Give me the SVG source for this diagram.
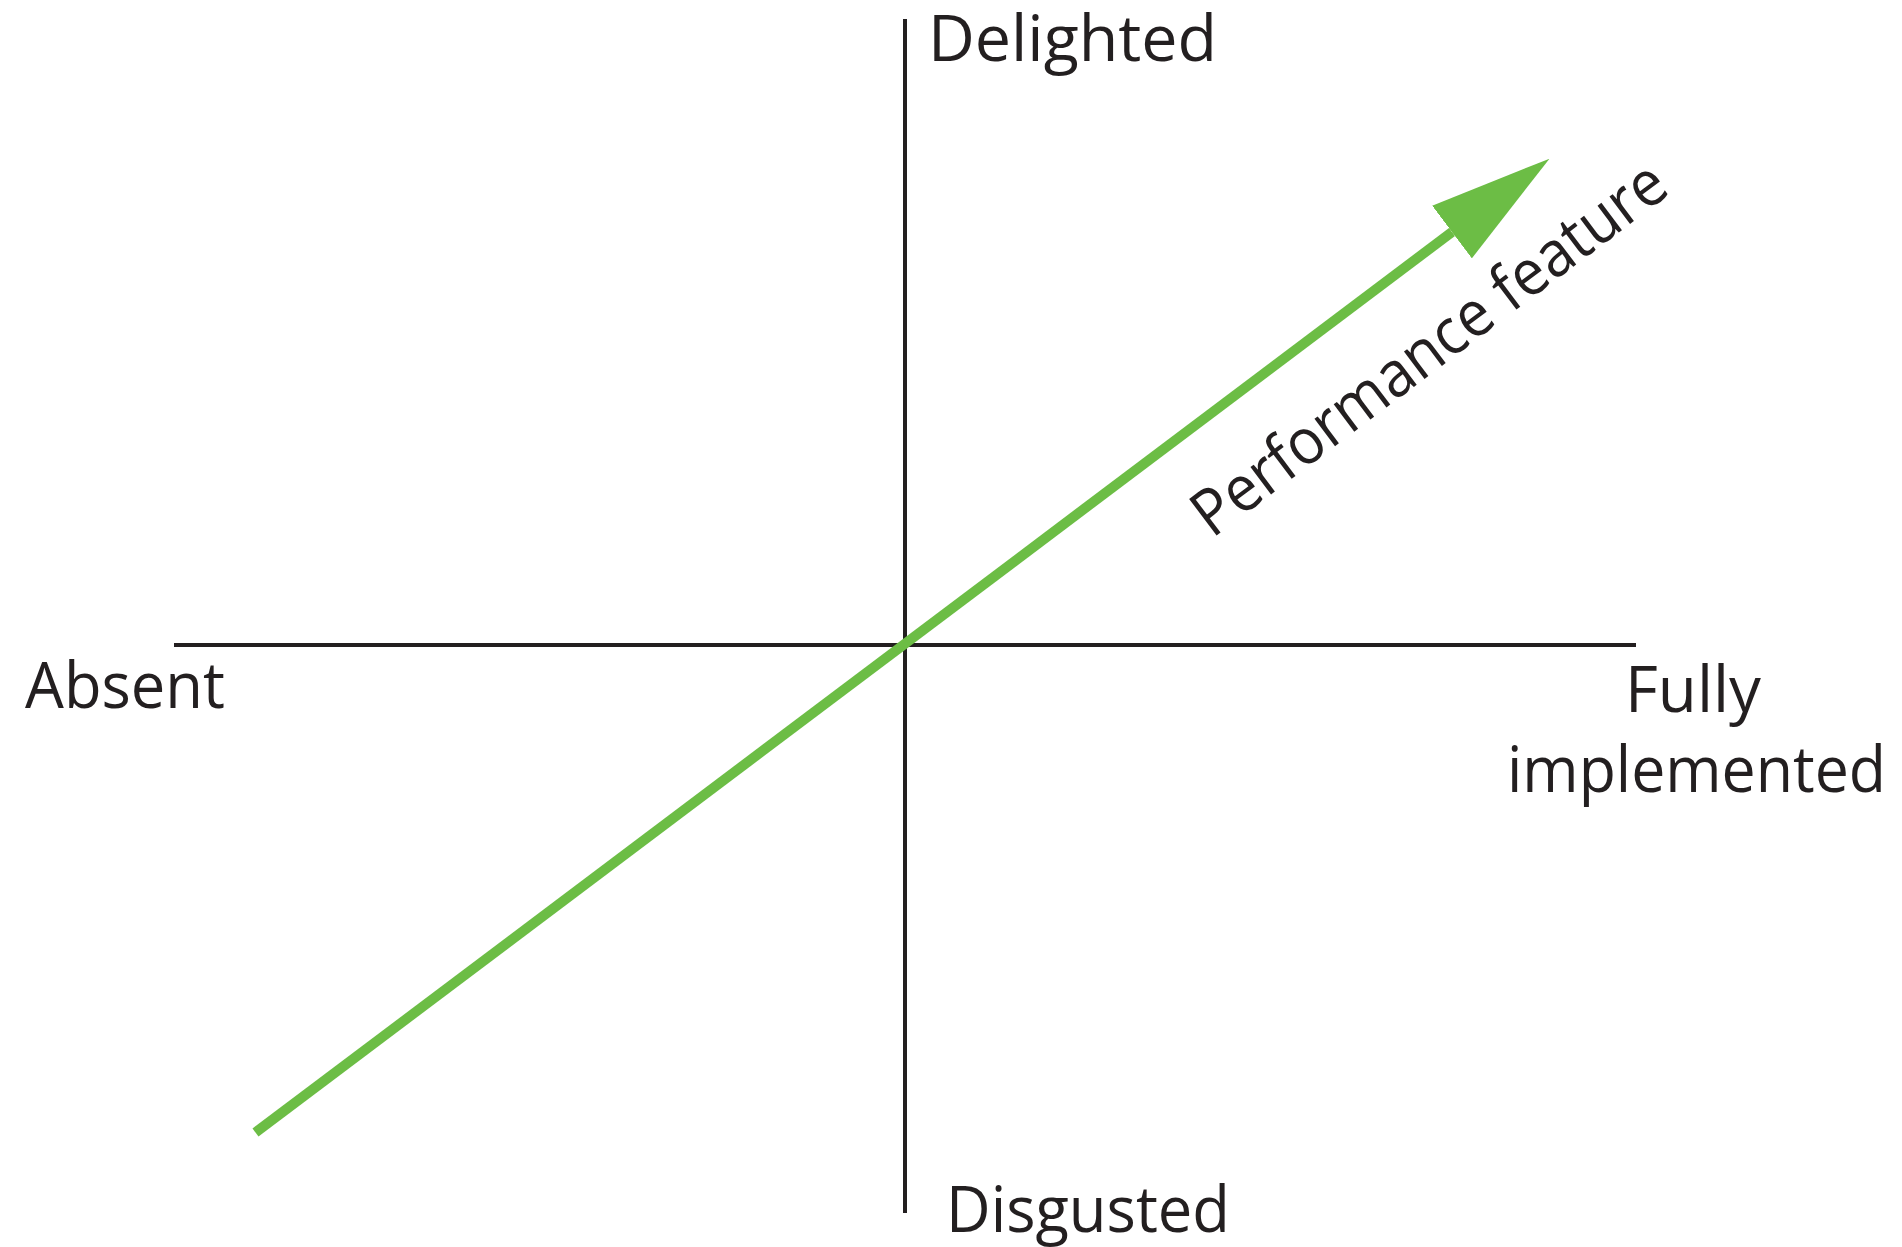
<svg xmlns="http://www.w3.org/2000/svg" width="1902" height="1247" viewBox="0 0 1902 1247">
<style>
.axis{stroke:#231f20;stroke-width:4;fill:none}
.lbl{font-family:"Open Sans","Noto Sans","Liberation Sans",sans-serif;font-size:64px;fill:#231f20}
.perf{stroke:#6cbd45;stroke-width:10;fill:none}
</style>
<defs>
<marker id="ah" markerUnits="userSpaceOnUse" viewBox="0 0 122 66" refX="0" refY="33" markerWidth="122" markerHeight="66" orient="auto">
<polygon points="0,0 122,33 0,66" fill="#6cbd45"/>
</marker>
</defs>
<rect width="1902" height="1247" fill="#ffffff"/>
<g id="connectors">
<line id="axis-y" class="axis" x1="905" y1="19" x2="905" y2="1213"/>
<line id="axis-x" class="axis" x1="174" y1="645" x2="1636" y2="645"/>
<line id="performance" class="perf" x1="255.5" y1="1132.5" x2="1452" y2="232" marker-end="url(#ah)"/>
</g>
<g id="delighted"><text class="lbl" x="928" y="61" textLength="289" lengthAdjust="spacingAndGlyphs">Delighted</text></g>
<g id="absent"><text class="lbl" x="25" y="708" textLength="200" lengthAdjust="spacingAndGlyphs">Absent</text></g>
<g id="fully-implemented">
<text class="lbl" x="1625" y="712" textLength="136" lengthAdjust="spacingAndGlyphs">Fully</text>
<text class="lbl" x="1507" y="792" textLength="379" lengthAdjust="spacingAndGlyphs">implemented</text>
</g>
<g id="disgusted"><text class="lbl" x="946" y="1232" textLength="284" lengthAdjust="spacingAndGlyphs">Disgusted</text></g>
<g id="performance-label"><text class="lbl" transform="translate(1212,539) rotate(-37)" x="0" y="0" textLength="576" lengthAdjust="spacingAndGlyphs">Performance feature</text></g>
</svg>
